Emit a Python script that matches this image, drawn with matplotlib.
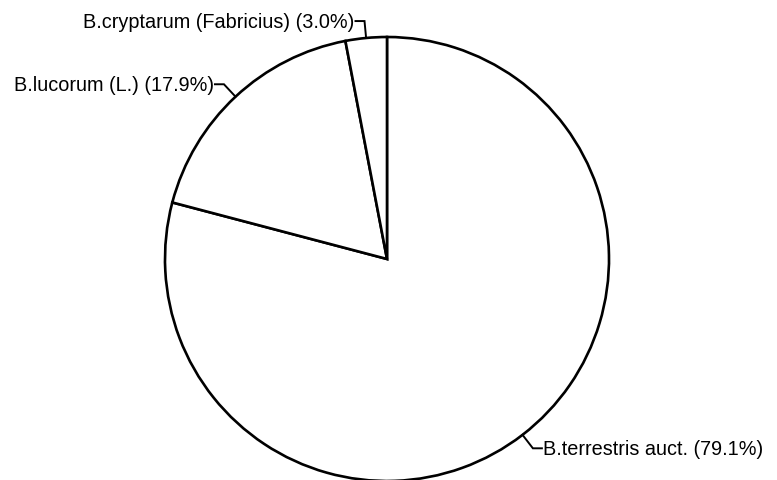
import numpy as np
import matplotlib
matplotlib.use('Agg')
import matplotlib.pyplot as plt

# %% Data
species = ['B.terrestris auct.', 'B.lucorum (L.)', 'B.cryptarum (Fabricius)']
shares = [79.1, 17.9, 3.0]

# %% Figure (axes in pixel units, y up)
W, H = 777, 481
fig = plt.figure(figsize=(W / 100, H / 100), dpi=100)
ax = fig.add_axes([0, 0, 1, 1])
ax.set_xlim(0, W)
ax.set_ylim(0, H)
ax.set_aspect('equal')
ax.axis('off')

cx, cy, r = 387, H - 260, 222
wedges, _ = ax.pie(shares, startangle=90, counterclock=False, center=(cx, cy), radius=r,
                   colors=['white'] * len(shares),
                   wedgeprops=dict(edgecolor='black', linewidth=1.9))
ax.set_xlim(0, W)
ax.set_ylim(0, H)

# leader lines + labels
for w, name, val in zip(wedges, species, shares):
    ang = np.deg2rad((w.theta1 + w.theta2) / 2)
    p0 = (cx + r * np.cos(ang), cy + r * np.sin(ang))
    p1 = (cx + (r + 17) * np.cos(ang), cy + (r + 17) * np.sin(ang))
    side = 1 if np.cos(ang) > 0 else -1
    p2 = (p1[0] + side * 9, p1[1])
    ax.plot([p0[0], p1[0], p2[0]], [p0[1], p1[1], p2[1]], color='black', lw=1.4,
            solid_joinstyle='miter', clip_on=False)
    ax.text(p2[0] + side * 1, p2[1], f'{name} ({val:.1f}%)', ha='left' if side > 0 else 'right',
            va='center', fontsize=14.3, family='Liberation Sans')

fig.savefig('out.png', dpi=100)
